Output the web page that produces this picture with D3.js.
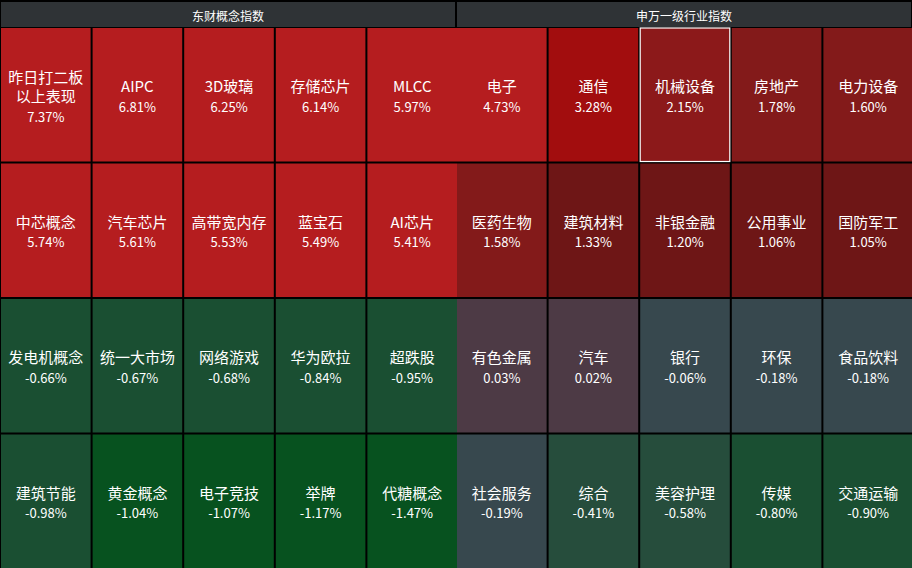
<!DOCTYPE html>
<html>
<head>
<meta charset="utf-8">
<script src="https://cdn.jsdelivr.net/npm/d3@7/dist/d3.min.js"></script>
<style>
html,body{margin:0;padding:0;background:#000;}
svg{display:block;}
text{font-family:"Microsoft YaHei","Noto Sans CJK SC","Noto Sans",sans-serif;fill:#fff;}
</style>
</head>
<body>
<svg id="chart" width="912" height="568"></svg>
<script>
// ---- data ----
const panelTitles = ["东财概念指数", "申万一级行业指数"];
const conceptNames = ["昨日打二板以上表现","AIPC","3D玻璃","存储芯片","MLCC",
  "中芯概念","汽车芯片","高带宽内存","蓝宝石","AI芯片",
  "发电机概念","统一大市场","网络游戏","华为欧拉","超跌股",
  "建筑节能","黄金概念","电子竞技","举牌","代糖概念"];
const conceptValues = [7.37,6.81,6.25,6.14,5.97,
  5.74,5.61,5.53,5.49,5.41,
  -0.66,-0.67,-0.68,-0.84,-0.95,
  -0.98,-1.04,-1.07,-1.17,-1.47];
const industryNames = ["电子","通信","机械设备","房地产","电力设备",
  "医药生物","建筑材料","非银金融","公用事业","国防军工",
  "有色金属","汽车","银行","环保","食品饮料",
  "社会服务","综合","美容护理","传媒","交通运输"];
const industryValues = [4.73,3.28,2.15,1.78,1.60,
  1.58,1.33,1.20,1.06,1.05,
  0.03,0.02,-0.06,-0.18,-0.18,
  -0.19,-0.41,-0.58,-0.80,-0.90];
const highlighted = "机械设备";
const colorThresholds = [-1, -0.6, -0.3, 0, 1, 1.5, 2, 3, 4];
const colorRange = ["#07521f","#1a4f32","#264d3c","#37484e","#4d3a45",
  "#6e1616","#831a1a","#8c191a","#a20d0e","#b51d1f"];

// ---- layout ----
const W = 912, H = 568;
const cols = 5, rows = 4;
const headerTop = 2, headerBottom = 27, gridTop = 28;
const svg = d3.select("#chart");
svg.append("rect").attr("width", W).attr("height", H).attr("fill", "#000");

const color = d3.scaleThreshold().domain(colorThresholds).range(colorRange);
const panelX = d3.scaleBand().domain([0,1]).range([0, W]);
const rowY = d3.scaleBand().domain(d3.range(rows)).range([gridTop, H + 2]).paddingInner(0);

const panels = [
  {title: panelTitles[0], names: conceptNames, values: conceptValues},
  {title: panelTitles[1], names: industryNames, values: industryValues}
];

panels.forEach((p, pi) => {
  const x0 = panelX(pi), pw = panelX.bandwidth();
  const g = svg.append("g");
  g.append("rect").attr("x", x0 + 1).attr("y", headerTop)
    .attr("width", pw - 2).attr("height", headerBottom - headerTop)
    .attr("fill", "#2f3336");
  g.append("text").attr("x", x0 + pw / 2).attr("y", (headerTop + headerBottom) / 2 + 0.5)
    .attr("text-anchor", "middle").attr("dominant-baseline", "central")
    .attr("font-size", 12).text(p.title);

  const colX = d3.scaleBand().domain(d3.range(cols)).range([x0, x0 + pw + 2]);
  const cells = p.names.map((n, i) => ({name: n, value: p.values[i], c: i % cols, r: Math.floor(i / cols)}));
  const cg = g.selectAll("g.cell").data(cells).join("g").attr("class", "cell");
  cg.append("rect")
    .attr("x", d => colX(d.c) + 1)
    .attr("y", d => rowY(d.r))
    .attr("width", colX.bandwidth() - 2)
    .attr("height", rowY.bandwidth() - 2)
    .attr("fill", d => color(d.value))
    .attr("stroke", d => d.name === highlighted ? "#fff" : "none")
    .attr("stroke-width", 1.2);
  cg.each(function(d) {
    const sel = d3.select(this);
    const cx = colX(d.c) + colX.bandwidth() / 2;
    const cy = rowY(d.r) + (rowY.bandwidth() - 2) / 2;
    const maxW = colX.bandwidth() - 12;
    const tmp = sel.append("text").attr("font-size", 15).text(d.name);
    const full = tmp.node().getComputedTextLength();
    let lines = [d.name];
    if (full > maxW) {
      lines = [];
      let cur = "";
      for (const ch of d.name) {
        tmp.text(cur + ch);
        if (tmp.node().getComputedTextLength() > maxW && cur) { lines.push(cur); cur = ch; }
        else cur += ch;
      }
      if (cur) lines.push(cur);
    }
    tmp.remove();
    const lh = 19.5;
    const start = cy - 9 - (lines.length - 1) * lh / 2;
    lines.forEach((l, li) => {
      sel.append("text").attr("x", cx).attr("y", start + li * lh)
        .attr("text-anchor", "middle").attr("dominant-baseline", "central")
        .attr("font-size", 15).text(l);
    });
    sel.append("text").attr("x", cx).attr("y", start + (lines.length - 1) * lh + 20.5)
      .attr("text-anchor", "middle").attr("dominant-baseline", "central")
      .attr("font-size", 13).text(d.value.toFixed(2) + "%");
  });
});
</script>
</body>
</html>
